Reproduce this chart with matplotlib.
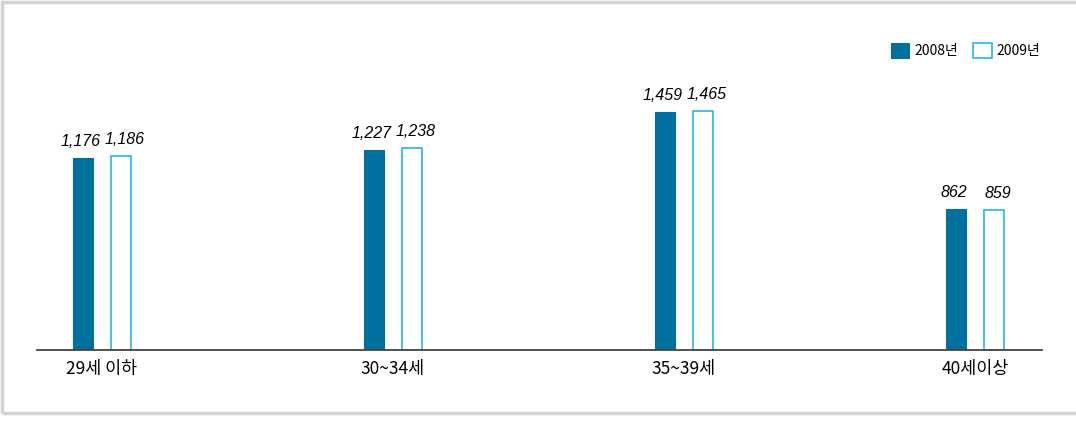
import numpy as np
import matplotlib
matplotlib.use('Agg')
import matplotlib.pyplot as plt
from matplotlib.patches import Rectangle

plt.rcParams['font.family'] = ['Noto Sans CJK KR', 'DejaVu Sans']

# data
groups = ['29세 이하', '30~34세', '35~39세', '40세이상']
series_names = ['2008년', '2009년']
values_2008 = [1176, 1227, 1459, 862]
values_2009 = [1186, 1238, 1465, 859]

dark = '#00719f'
light = '#3cb8e8'

fig = plt.figure(figsize=(10.76, 4.21), dpi=100)
W, H = 1076, 421

# light gray frame around the chart
fig.add_artist(Rectangle((1.5 / W, 1 - 413 / H), 1.2, 411 / H,
                         transform=fig.transFigure, fill=False,
                         edgecolor='#d3d3d3', linewidth=2.5))

# axes: x 37..1042 px, baseline at y=350 px, top at y=20 px
ax = fig.add_axes([37 / W, 1 - 350 / H, (1042 - 37) / W, 330 / H])
px = 291.0  # pixels per group
x = np.arange(len(groups))
off = 19 / px
bw = 20 / px

b1 = ax.bar(x - off, values_2008, bw, color=dark, edgecolor=dark, linewidth=0.8)
b2 = ax.bar(x + off, values_2009, bw, color='white', edgecolor=light, linewidth=1.3)

# value labels, nudged apart a little like the original
for xs, vals, nudge in [(x - off, values_2008, -2.5 / px), (x + off, values_2009, 3.5 / px)]:
    for xi, v in zip(xs, vals):
        ax.text(xi + nudge, v + 55, f'{v:,}', ha='center', va='bottom',
                fontsize=11.5, fontstyle='italic', family='Liberation Sans')

ax.set_xlim(-65 / px, 3 + 67 / px)
ax.set_ylim(0, 330 / 0.1633)

for s in ['top', 'right', 'left']:
    ax.spines[s].set_visible(False)
ax.spines['bottom'].set_color('#444444')
ax.spines['bottom'].set_linewidth(1.3)
ax.set_yticks([])
ax.set_xticks(x)
ax.set_xticklabels(groups, fontsize=12.5)
ax.tick_params(axis='x', length=0, pad=7)

ax.legend([b1, b2], series_names, loc='upper right', bbox_to_anchor=(1.011, 1 - 10 / 330),
          frameon=False, ncol=2, fontsize=10, handlelength=1.35, handleheight=1.35,
          handletextpad=0.35, columnspacing=1.1)

fig.savefig('out.png', dpi=100)
